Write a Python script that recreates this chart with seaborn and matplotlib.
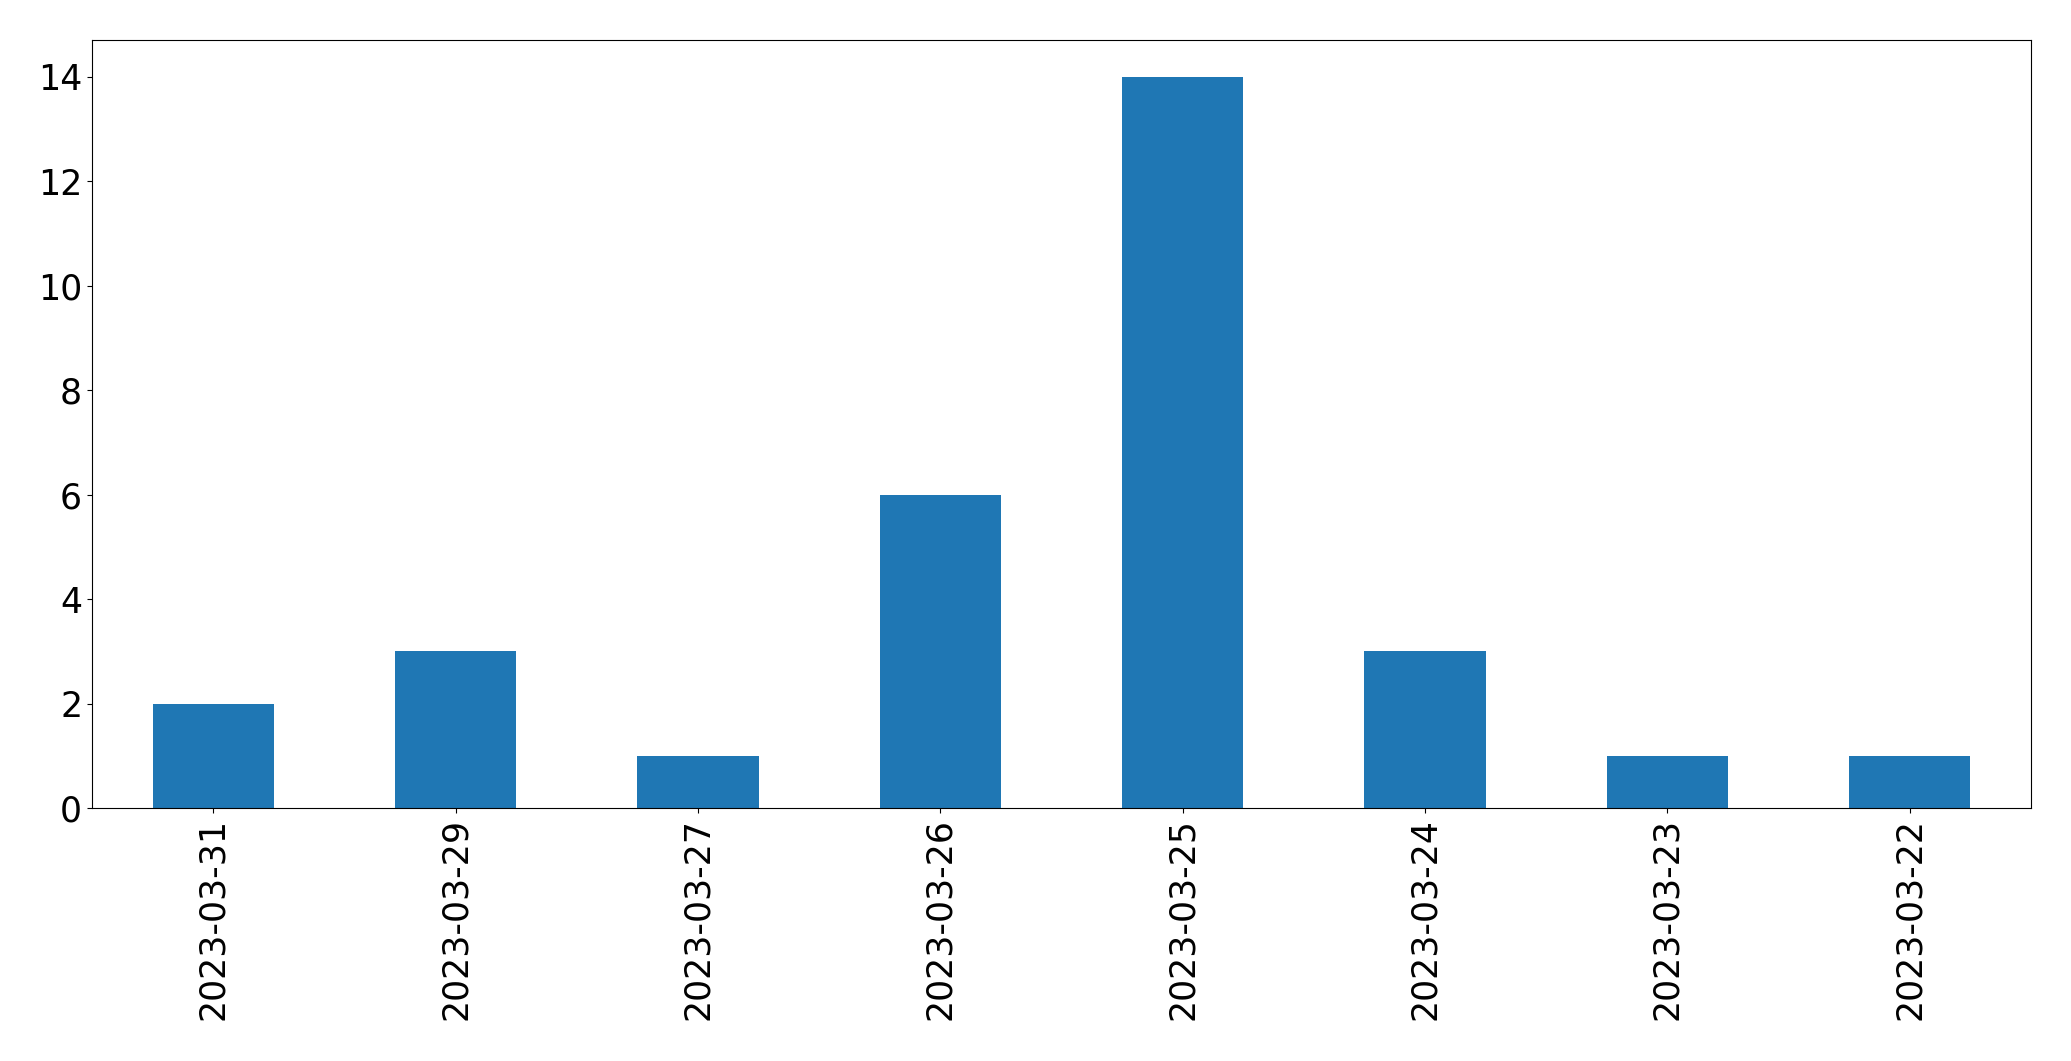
import matplotlib
matplotlib.use("Agg")
import matplotlib.pyplot as plt
import seaborn as sns
import pandas as pd

dates = ["2023-03-31", "2023-03-29", "2023-03-27", "2023-03-26",
         "2023-03-25", "2023-03-24", "2023-03-23", "2023-03-22"]
counts = [2, 3, 1, 6, 14, 3, 1, 1]

df = pd.DataFrame({"date": dates, "count": counts})

fig, ax = plt.subplots(figsize=(20.71, 10.61), dpi=100)
fig.subplots_adjust(left=0.0444, right=0.9807, top=0.962, bottom=0.2385)

sns.barplot(data=df, x="date", y="count", color="#1f77b4", saturation=1,
            width=0.5, ax=ax, order=dates)

ax.set_xlim(-0.5, len(dates) - 0.5)
ax.set_ylim(0, max(counts) * 1.05)
ax.set_xlabel("")
ax.set_ylabel("")
ax.tick_params(axis="both", labelsize=25)
plt.setp(ax.get_xticklabels(), rotation=90)

fig.savefig("out.png", dpi=100)
